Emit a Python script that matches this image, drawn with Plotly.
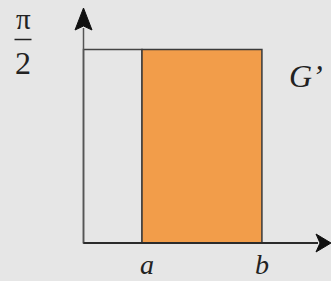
import math
import plotly.graph_objects as go

# ---- data ----
x_origin = 0.0
a_val = 1.0          # position of "a"
b_val = 3.05         # position of "b"
y_top = math.pi / 2  # height of region G'
x_tick_labels = ["a", "b"]
y_tick_label = "π/2"
region_label = "G’"

# ---- layout / scale helpers (pixels) ----
W, H = 331, 281
px_x0, px_a = 83.5, 142.0
px_y0, px_top = 243.0, 49.5
sx = (px_a - px_x0) / (a_val - x_origin)
sy = (px_y0 - px_top) / y_top
x_range = [x_origin - px_x0 / sx, x_origin + (W - px_x0) / sx]
y_range = [-(H - px_y0) / sy, px_y0 / sy]

def dx(p):
    return p / sx

def dy(p):
    return p / sy

BG = "#e6e6e6"
ORANGE = "#f29d4a"
DARK = "#2b2b2b"

shapes = []
# outer rectangle 0..a (unfilled)
shapes.append(dict(type="rect", xref="x", yref="y", x0=x_origin, x1=a_val, y0=0, y1=y_top,
                   line=dict(color="#444", width=1.5), fillcolor="rgba(0,0,0,0)", layer="above"))
# orange rectangle a..b
shapes.append(dict(type="rect", xref="x", yref="y", x0=a_val, x1=b_val, y0=0, y1=y_top,
                   line=dict(color="#3a3a3a", width=1.5), fillcolor=ORANGE, layer="above"))

# axes
y_tip = y_range[1] - dy(8)
x_tip = x_range[1]
y_base = y_tip - dy(22)
x_base = x_tip - dx(15)
shapes.append(dict(type="line", xref="x", yref="y", x0=x_origin, x1=x_origin, y0=0, y1=y_base + dy(2),
                   line=dict(color="#555", width=1.5), layer="above"))
shapes.append(dict(type="line", xref="x", yref="y", x0=x_origin, x1=x_base + dx(2), y0=0, y1=0,
                   line=dict(color=DARK, width=2), layer="above"))
# arrowheads
yh = (f"M {x_origin} {y_tip} L {x_origin + dx(8.5)} {y_base} "
      f"L {x_origin} {y_base + dy(4)} L {x_origin - dx(8.5)} {y_base} Z")
shapes.append(dict(type="path", xref="x", yref="y", path=yh, fillcolor="#111",
                   line=dict(color="#111", width=1), layer="above"))
xh = (f"M {x_tip} 0 L {x_base} {dy(9)} L {x_base + dx(4)} 0 L {x_base} {-dy(9)} Z")
shapes.append(dict(type="path", xref="x", yref="y", path=xh, fillcolor="#111",
                   line=dict(color="#111", width=1), layer="above"))

fnt = dict(family="Liberation Serif, Times New Roman, serif", color="#222")
num, den = y_tick_label.split("/")
annotations = [
    dict(x=x_origin - dx(60.5), y=y_top, xref="x", yref="y", text=num, showarrow=False,
         font=dict(size=29, **fnt), yshift=31),
    dict(x=x_origin - dx(60.5), y=y_top, xref="x", yref="y", text=den, showarrow=False,
         font=dict(size=32, **fnt), yshift=-13),
    dict(x=a_val + dx(5), y=0, xref="x", yref="y", text=f"<i>{x_tick_labels[0]}</i>", showarrow=False,
         font=dict(size=28, **fnt), yshift=-21),
    dict(x=b_val, y=0, xref="x", yref="y", text=f"<i>{x_tick_labels[1]}</i>", showarrow=False,
         font=dict(size=28, **fnt), yshift=-21),
    dict(x=b_val + dx(44), y=y_top, xref="x", yref="y", text=f"<i>{region_label}</i>", showarrow=False,
         font=dict(size=32, **fnt), yshift=-26),
]
# fraction bar
shapes.append(dict(type="line", xref="x", yref="y", x0=x_origin - dx(69), x1=x_origin - dx(52),
                   y0=y_top + dy(10), y1=y_top + dy(10), line=dict(color="#222", width=1.5)))

fig = go.Figure()
fig.update_layout(
    width=W, height=H, margin=dict(l=0, r=0, t=0, b=0),
    paper_bgcolor=BG, plot_bgcolor=BG,
    xaxis=dict(range=x_range, visible=False, fixedrange=True),
    yaxis=dict(range=y_range, visible=False, fixedrange=True),
    shapes=shapes, annotations=annotations, showlegend=False,
)
fig.write_html(
    "out.html",
    config={"displayModeBar": False},
    post_script="document.body.style.margin='0';document.body.style.overflow='hidden';"
                "document.body.style.background='#e6e6e6';",
)
